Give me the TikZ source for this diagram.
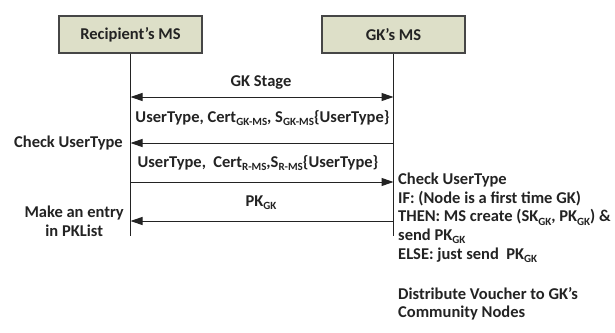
\documentclass[tikz,border=0pt]{standalone}
\usepackage{fontspec}
\setmainfont{Carlito}
\usepackage{xcolor}
\usetikzlibrary{arrows.meta}

\definecolor{boxfill}{RGB}{221,223,200}
\definecolor{boxline}{RGB}{70,70,70}
\definecolor{ink}{RGB}{35,35,35}
\newcommand{\lowsub}[1]{\raisebox{-0.4ex}{\fontsize{11}{11}\selectfont #1}}

\begin{document}
\begin{tikzpicture}[x=1pt, y=-1pt,
    every node/.style={font=\fontsize{16.5}{18.6}\selectfont\bfseries, text=ink, inner sep=0pt},
    msbox/.style={draw=boxline, line width=1.2pt, fill=boxfill, minimum width=143pt, minimum height=37pt},
    lifeline/.style={line width=1pt, draw=ink},
    msg/.style={line width=1pt, draw=ink, -{Triangle[length=12pt, width=8pt]}},
    msgboth/.style={msg, {Triangle[length=12pt, width=8pt]}-{Triangle[length=12pt, width=8pt]}}]
    \useasboundingbox (0,0) rectangle (615,332);

    % Mobile stations and lifelines
    \node[msbox] (rms) at (130.5,34.5) {Recipient’s MS};
    \node[msbox] (gms) at (393.5,34.5) {GK’s MS};
    \coordinate (rend) at (130.5,236);
    \coordinate (gend) at (393.5,236);
    \draw[lifeline] (rms.south) -- (rend);
    \draw[lifeline] (gms.south) -- (gend);

    % Message rows
    \foreach \y/\n in {97/1,143/2,182/3,221/4} {
        \coordinate (r\n) at (130.5,\y);
        \coordinate (g\n) at (393.5,\y);
    }
    \draw[msgboth] (r1) -- (g1);
    \draw[msg] (g2) -- (r2);
    \draw[msg] (r3) -- (g3);
    \draw[msg] (g4) -- (r4);

    % Message labels
    \node (gkstage) at (261,82) {GK Stage};
    \node (req) at (262.5,118) {UserType, Cert\lowsub{GK-MS}, S\lowsub{GK-MS}\{UserType\}};
    \node (resp) at (258,163) {UserType,\ \ Cert\lowsub{R-MS},S\lowsub{R-MS}\{UserType\}};
    \node (pk) at (261,203) {PK\lowsub{GK}};

    % Actions on the lifelines
    \node[anchor=east] (chkr) at (123,143) {Check UserType};
    \node[anchor=east, align=center] (entry) at (124,221.5) {Make an entry\\in PKList};
    \node[anchor=north west, align=left] (chkg) at (398,173) {Check UserType\\IF: (Node is a first time GK)\\THEN: MS create (SK\lowsub{GK}, PK\lowsub{GK}) \&\\send PK\lowsub{GK}\\ELSE: just send\ \ PK\lowsub{GK}};
    \node[anchor=north west, align=left] (dist) at (398,287) {Distribute Voucher to GK’s\\Community Nodes};
\end{tikzpicture}
\end{document}
